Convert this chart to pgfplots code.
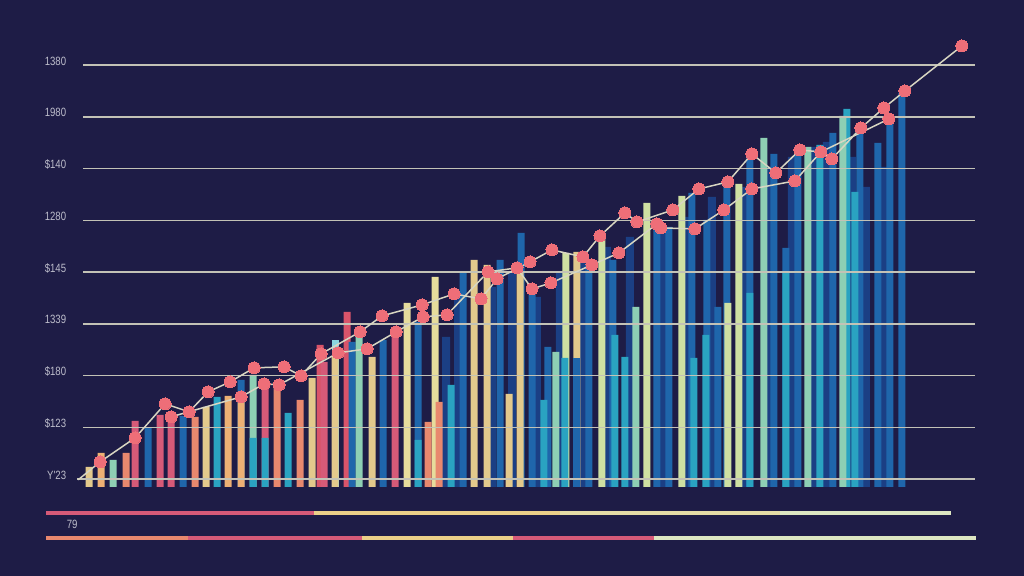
\documentclass[border=0pt]{standalone}
\usepackage{pgfplots}
\pgfplotsset{compat=1.18}
\usepackage{fontspec}
\setmainfont{Liberation Sans}
\newfontfamily\narrowf[FakeStretch=0.8]{Liberation Sans}
\definecolor{bg}{HTML}{1E1C46}
\definecolor{gridc}{HTML}{C3C2B6}
\definecolor{labelgray}{HTML}{BDBDCB}
\definecolor{linec}{HTML}{D8D6C2}
\definecolor{mk}{HTML}{EE6E78}
\definecolor{cblue}{HTML}{1F66AB}
\definecolor{dblue}{HTML}{1B3F84}
\definecolor{teal}{HTML}{2AA3C1}
\definecolor{mint}{HTML}{8ECFB4}
\definecolor{paleg}{HTML}{CFE0A2}
\definecolor{paley}{HTML}{E6DC9C}
\definecolor{tan}{HTML}{E3C98C}
\definecolor{orng}{HTML}{EDB074}
\definecolor{salmon}{HTML}{E8886E}
\definecolor{pink}{HTML}{D65A78}
\definecolor{cred}{HTML}{D9546A}
\definecolor{lcyan}{HTML}{8AD6DF}
\definecolor{syel}{HTML}{EBCF88}
\definecolor{syel2}{HTML}{E5DCA6}
\definecolor{spale}{HTML}{DDE6C2}
\begin{document}
\begin{tikzpicture}
\begin{axis}[
  scale only axis, width=512pt, height=288pt,
  xmin=0, xmax=1024, ymin=-89, ymax=487,
  axis line style={draw=none},
  axis background/.style={fill=bg},
  xtick=\empty,
  ytick={7.6,59.4,111.2,163,214.8,266.6,318.4,370.2,422},
  yticklabels={Y'23,\$123,\$180,1339,\$145,1280,\$140,1980,1380},
  major tick length=0pt,
  yticklabel style={anchor=east, xshift=36.5pt, yshift=2pt, text=labelgray, font=\narrowf\fontsize{6}{7}\selectfont},
  bb/.style={ybar, bar width=7, bar shift=0pt, draw=none, fill=#1},
  gl/.style={draw=gridc, line width=0.8pt, no markers},
  ln/.style={draw=linec, line width=0.75pt, no markers},
  mkp/.style={only marks, mark=*, mark size=3pt, mark options={fill=mk, draw=mk, line width=0pt}},
]
% background dark bars
\addplot[bb=dblue, bar width=8] coordinates {(446,150) (458,190) (492,200) (512,215) (537,190) (560,215) (583,230) (607,240) (630,250) (664,260) (688,270) (712,290) (744,300) (770,320) (792,330) (814,340) (827,345) (852,330) (866,300) (884,320)};
\addplot[bb=lcyan] coordinates {(335,147)};
\addplot[bb=cred] coordinates {(320,142) (347,175)};
% blue bars
\addplot[bb=cblue] coordinates {(148,59) (183,71) (241,107) (352,145) (383,147) (418,165) (463,215) (500,227) (521,254) (532,200) (548,140) (589,222) (613,227) (657,264) (669,260) (692,294) (707,267) (718,180) (727,305) (750,334) (774,333) (786,239) (798,340) (833,354) (860,357) (878,344) (890,369) (902,394)};
% teal
\addplot[bb=teal] coordinates {(217,90) (288,74) (451,102) (544,87) (615,152) (625,130) (694,129) (706,152) (820,342) (847,378) (855,295)};
% mint
\addplot[bb=mint] coordinates {(113,27) (253,112) (359,150) (556,135) (636,180) (764,349) (808,340) (843,371)};
% pale green / yellow
\addplot[bb=paleg] coordinates {(566,234) (602,249) (647,284) (682,291) (728,184) (739,303)};
\addplot[bb=paley] coordinates {(407,184) (435,210)};
% tan
\addplot[bb=tan] coordinates {(89,20) (206,80) (312,109) (335,131) (372,130) (474,227) (487,222) (509,93) (520,215) (577,235)};
% orange / salmon
\addplot[bb=orng] coordinates {(101,34) (228,91) (241,85)};
\addplot[bb=salmon] coordinates {(126,34) (195,70) (277,105) (300,87) (428,65) (439,85)};
% pink
\addplot[bb=pink] coordinates {(135,66) (160,72) (171,70) (265,104) (324,125) (395,155)};
% overlays
\addplot[bb=teal] coordinates {(253,49) (265,49) (418,47) (565,129) (750,194) (786,214)};
\addplot[bb=cblue] coordinates {(577,129)};
% grid lines
\addplot[gl] coordinates {(77,7.6) (975,7.6)};
\pgfplotsinvokeforeach{59.4,111.2,163,214.8,266.6,318.4,370.2,422}{
  \addplot[gl] coordinates {(83,#1) (975,#1)};
}
% lines
\addplot[ln] coordinates {(78,7) (100,25) (135,49) (165,83) (189,75) (208,95) (230,105) (254,119) (284,120) (301,111) (321,133) (360,155) (382,171) (422,182) (454,193) (481,188) (497,208) (530,225) (552,237) (583,230) (600,251) (625,274) (637,265) (673,277) (699,298) (728,305) (752,333) (776,314) (800,337) (821,335) (832,328) (861,359) (884,379) (905,396) (962,441)};
\addplot[ln] coordinates {(171,70) (241,90) (264,103) (279,102) (338,134) (367,138) (396,155) (423,170) (447,172) (488,215) (517,219) (532,198) (551,204) (592,222) (619,234) (657,263) (661,259) (695,258) (724,277) (752,298) (795,306) (821,335) (889,368)};
\addplot[mkp] coordinates {(100,25) (135,49) (165,83) (189,75) (208,95) (230,105) (254,119) (284,120) (301,111) (321,133) (360,155) (382,171) (422,182) (454,193) (481,188) (497,208) (530,225) (552,237) (583,230) (600,251) (625,274) (637,265) (673,277) (699,298) (728,305) (752,333) (776,314) (800,337) (821,335) (832,328) (861,359) (884,379) (905,396) (962,441)};
\addplot[mkp] coordinates {(171,70) (241,90) (264,103) (279,102) (338,134) (367,138) (396,155) (423,170) (447,172) (488,215) (517,219) (532,198) (551,204) (592,222) (619,234) (657,263) (661,259) (695,258) (724,277) (752,298) (795,306) (889,368)};
% bottom strips
\addplot[draw=pink, line width=2pt, line cap=butt] coordinates {(46,-26) (314,-26)};
\addplot[draw=syel, line width=2pt, line cap=butt] coordinates {(314,-26) (560,-26)};
\addplot[draw=syel2, line width=2pt, line cap=butt] coordinates {(560,-26) (780,-26)};
\addplot[draw=spale, line width=2pt, line cap=butt] coordinates {(780,-26) (951,-26)};
\addplot[draw=salmon, line width=2pt, line cap=butt] coordinates {(46,-51) (188,-51)};
\addplot[draw=pink, line width=2pt, line cap=butt] coordinates {(188,-51) (362,-51)};
\addplot[draw=syel, line width=2pt, line cap=butt] coordinates {(362,-51) (513,-51)};
\addplot[draw=pink, line width=2pt, line cap=butt] coordinates {(513,-51) (654,-51)};
\addplot[draw=spale, line width=2pt, line cap=butt] coordinates {(654,-51) (976,-51)};
\node[text=labelgray, font=\narrowf\fontsize{6}{7}\selectfont] at (axis cs:72,-38) {79};
\end{axis}
\end{tikzpicture}
\end{document}
